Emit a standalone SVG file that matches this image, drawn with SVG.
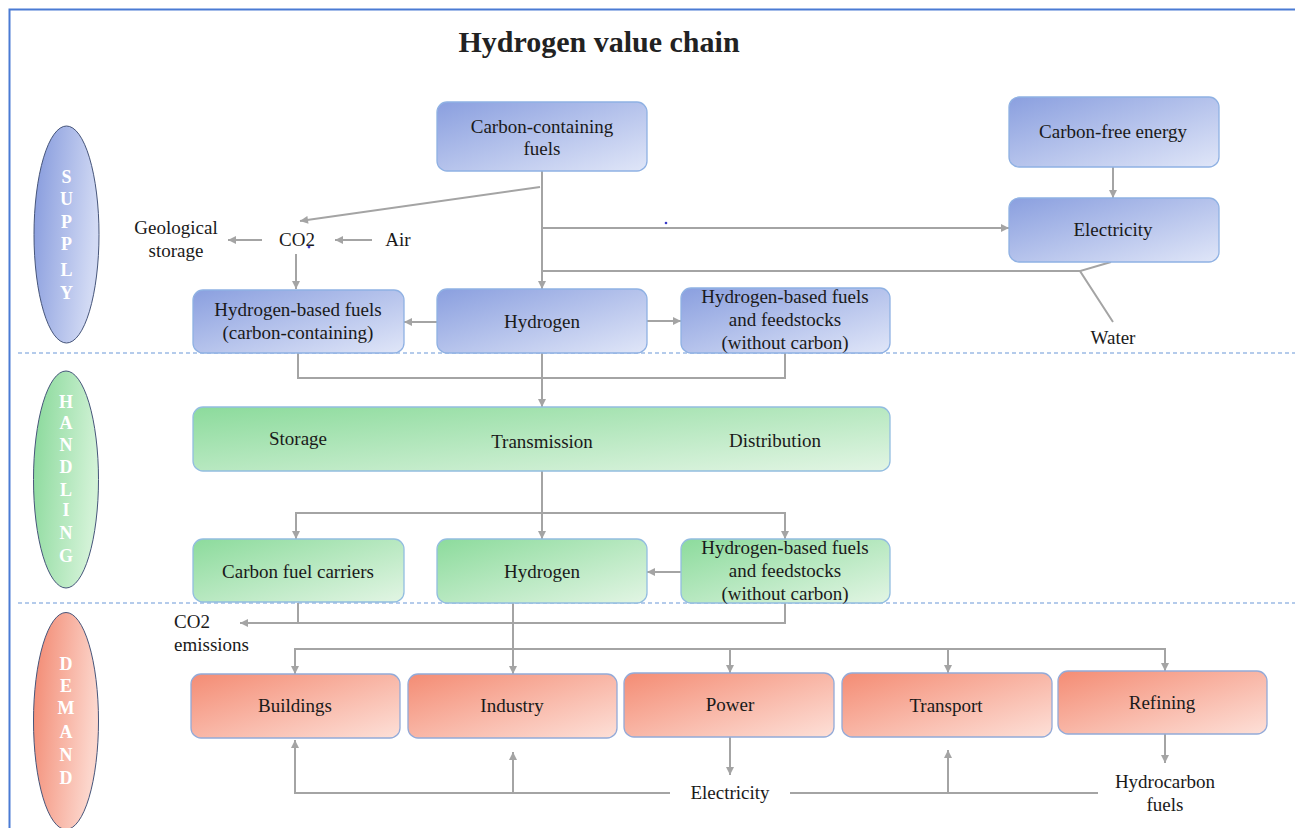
<svg xmlns="http://www.w3.org/2000/svg" width="1295" height="828" viewBox="0 0 1295 828">
<style>
.t{font-family:"Liberation Serif","Times New Roman",serif;font-size:19px;fill:#1a1a1a;text-anchor:middle}
.l{text-anchor:start}
.title{font-family:"Liberation Serif","Times New Roman",serif;font-size:30px;font-weight:bold;fill:#222;text-anchor:middle}
.el{font-family:"Liberation Serif","Times New Roman",serif;font-size:18px;font-weight:bold;fill:#ffffff;text-anchor:middle}
.sb{fill:url(#gB);stroke:#8fb1e3;stroke-width:1.3}
.hb{fill:url(#gG);stroke:#93bde0;stroke-width:1.3}
.db{fill:url(#gR);stroke:#93aad8;stroke-width:1.3}
.c{fill:none;stroke:#a4a4a4;stroke-width:2}
.a{marker-end:url(#ah)}
.sep{stroke:#6b98d8;stroke-width:1.2;stroke-dasharray:4 3}
</style>
<defs>
<linearGradient id="gB" x1="0" y1="0" x2="1" y2="1"><stop offset="0" stop-color="#8a9fdf"/><stop offset="1" stop-color="#e0e6f8"/></linearGradient>
<linearGradient id="gG" x1="0" y1="0" x2="1" y2="1"><stop offset="0" stop-color="#8cdb9c"/><stop offset="1" stop-color="#e2f5e4"/></linearGradient>
<linearGradient id="gR" x1="0" y1="0" x2="1" y2="1"><stop offset="0" stop-color="#f48c74"/><stop offset="1" stop-color="#fde0d8"/></linearGradient>
<linearGradient id="eB" x1="0" y1="0" x2="1" y2="0.3"><stop offset="0" stop-color="#8398dc"/><stop offset="1" stop-color="#d2daf4"/></linearGradient>
<linearGradient id="eG" x1="0" y1="0" x2="1" y2="0.3"><stop offset="0" stop-color="#86d898"/><stop offset="1" stop-color="#d2f2d6"/></linearGradient>
<linearGradient id="eR" x1="0" y1="0" x2="1" y2="0.3"><stop offset="0" stop-color="#f2866e"/><stop offset="1" stop-color="#fcd6cc"/></linearGradient>
<marker id="ah" viewBox="0 0 10 10" refX="10" refY="5" markerWidth="9" markerHeight="8" markerUnits="userSpaceOnUse" orient="auto"><path d="M0,0 L10,5 L0,10 z" fill="#a4a4a4"/></marker>
</defs>
<rect width="1295" height="828" fill="#ffffff"/>
<rect x="9.5" y="9.5" width="1300" height="830" fill="none" stroke="#4a7bd4" stroke-width="2"/>
<text class="title" x="599" y="52">Hydrogen value chain</text>

<g id="separators">
<line class="sep" x1="18" y1="353" x2="1295" y2="353"/>
<line class="sep" x1="18" y1="603" x2="1295" y2="603"/>
</g>

<g id="supply-label">
<ellipse cx="66.5" cy="234.5" rx="32.5" ry="108.5" fill="url(#eB)" stroke="#46557a" stroke-width="1"/>
<text class="el" x="66.5" y="183">S</text><text class="el" x="66.5" y="205">U</text><text class="el" x="66.5" y="228">P</text><text class="el" x="66.5" y="250">P</text><text class="el" x="66.5" y="276">L</text><text class="el" x="66.5" y="299">Y</text>
</g>
<g id="handling-label">
<ellipse cx="66" cy="479.5" rx="32.5" ry="108.5" fill="url(#eG)" stroke="#46557a" stroke-width="1"/>
<text class="el" x="66" y="408">H</text><text class="el" x="66" y="429">A</text><text class="el" x="66" y="451">N</text><text class="el" x="66" y="473">D</text><text class="el" x="66" y="496">L</text><text class="el" x="66" y="516">I</text><text class="el" x="66" y="539">N</text><text class="el" x="66" y="562">G</text>
</g>
<g id="demand-label">
<ellipse cx="66" cy="721" rx="32.5" ry="108.5" fill="url(#eR)" stroke="#46557a" stroke-width="1"/>
<text class="el" x="66" y="670">D</text><text class="el" x="66" y="692">E</text><text class="el" x="66" y="714">M</text><text class="el" x="66" y="738">A</text><text class="el" x="66" y="761">N</text><text class="el" x="66" y="784">D</text>
</g>

<g id="connectors">
<path class="c a" d="M542,171 V289"/>
<path class="c a" d="M540,187 L300,221"/>
<path class="c a" d="M542,228 H1009"/>
<path class="c" d="M542,271 H1080 M1111,262 L1080,271 L1113,322"/>
<path class="c a" d="M372,240 H335"/>
<path class="c a" d="M262,240 H228"/>
<path class="c a" d="M296,254 V289"/>
<path class="c a" d="M437,322 H404"/>
<path class="c a" d="M647,321 H681"/>
<path class="c a" d="M1113,167 V198"/>
<path class="c" d="M298,353 V378 H785 V353"/>
<path class="c a" d="M542,353 V407"/>
<path class="c a" d="M542,471 V539"/>
<path class="c a" d="M542,513 H296 V539"/>
<path class="c a" d="M542,513 H785 V539"/>
<path class="c a" d="M681,572 H647"/>
<path class="c" d="M298,603 V623"/>
<path class="c a" d="M785,603 V623 H240"/>
<path class="c a" d="M513,603 V674"/>
<path class="c a" d="M730,649 H295 V674"/>
<path class="c a" d="M730,649 V673"/>
<path class="c a" d="M730,649 H948 V673"/>
<path class="c a" d="M948,649 H1165 V671"/>
<path class="c a" d="M670,793 H295 V740"/>
<path class="c a" d="M513,793 V752"/>
<path class="c" d="M790,793 H1098"/>
<path class="c a" d="M948,793 V750"/>
<path class="c a" d="M730,737 V775"/>
<path class="c a" d="M1165,734 V763"/>
</g>

<g id="carbon-containing-fuels"><rect class="sb" x="437" y="102" width="210" height="69" rx="10"/><text class="t" x="542" y="133">Carbon-containing</text><text class="t" x="542" y="155">fuels</text></g>
<g id="carbon-free-energy"><rect class="sb" x="1009" y="97" width="210" height="70" rx="10"/><text class="t" x="1113" y="138">Carbon-free energy</text></g>
<g id="electricity-supply"><rect class="sb" x="1009" y="198" width="210" height="64" rx="10"/><text class="t" x="1113" y="236">Electricity</text></g>
<g id="hydrogen-supply"><rect class="sb" x="437" y="289" width="210" height="64" rx="10"/><text class="t" x="542" y="328">Hydrogen</text></g>
<g id="h-fuels-carbon"><rect class="sb" x="193" y="290" width="211" height="63" rx="10"/><text class="t" x="298" y="316">Hydrogen-based fuels</text><text class="t" x="298" y="339">(carbon-containing)</text></g>
<g id="h-fuels-nocarbon-supply"><rect class="sb" x="681" y="288" width="209" height="65" rx="10"/><text class="t" x="785" y="303">Hydrogen-based fuels</text><text class="t" x="785" y="326">and feedstocks</text><text class="t" x="785" y="349">(without carbon)</text></g>
<g id="water"><text class="t" x="1113" y="344">Water</text></g>
<g id="co2"><text class="t" x="297" y="246">CO2</text><circle cx="309" cy="247" r="1.4" fill="#3a3ac8"/></g>
<circle cx="666" cy="223" r="1.3" fill="#3a3ac8"/>
<g id="air"><text class="t" x="398" y="246">Air</text></g>
<g id="geological-storage"><text class="t" x="176" y="234">Geological</text><text class="t" x="176" y="257">storage</text></g>

<g id="storage-transmission-distribution"><rect class="hb" x="193" y="407" width="697" height="64" rx="10"/><text class="t" x="298" y="445">Storage</text><text class="t" x="542" y="448">Transmission</text><text class="t" x="775" y="447">Distribution</text></g>
<g id="carbon-fuel-carriers"><rect class="hb" x="193" y="539" width="211" height="63" rx="10"/><text class="t" x="298" y="578">Carbon fuel carriers</text></g>
<g id="hydrogen-handling"><rect class="hb" x="437" y="539" width="210" height="64" rx="10"/><text class="t" x="542" y="578">Hydrogen</text></g>
<g id="h-fuels-nocarbon-handling"><rect class="hb" x="681" y="539" width="209" height="64" rx="10"/><text class="t" x="785" y="554">Hydrogen-based fuels</text><text class="t" x="785" y="577">and feedstocks</text><text class="t" x="785" y="600">(without carbon)</text></g>
<g id="co2-emissions"><text class="t l" x="174" y="628">CO2</text><text class="t l" x="174" y="651">emissions</text></g>

<g id="buildings"><rect class="db" x="191" y="674" width="209" height="64" rx="10"/><text class="t" x="295" y="712">Buildings</text></g>
<g id="industry"><rect class="db" x="408" y="674" width="209" height="64" rx="10"/><text class="t" x="512" y="712">Industry</text></g>
<g id="power"><rect class="db" x="624" y="673" width="210" height="64" rx="10"/><text class="t" x="730" y="711">Power</text></g>
<g id="transport"><rect class="db" x="842" y="673" width="210" height="64" rx="10"/><text class="t" x="946" y="712">Transport</text></g>
<g id="refining"><rect class="db" x="1058" y="671" width="209" height="63" rx="10"/><text class="t" x="1162" y="709">Refining</text></g>
<g id="electricity-demand"><text class="t" x="730" y="799">Electricity</text></g>
<g id="hydrocarbon-fuels"><text class="t" x="1165" y="788">Hydrocarbon</text><text class="t" x="1165" y="811">fuels</text></g>
</svg>
